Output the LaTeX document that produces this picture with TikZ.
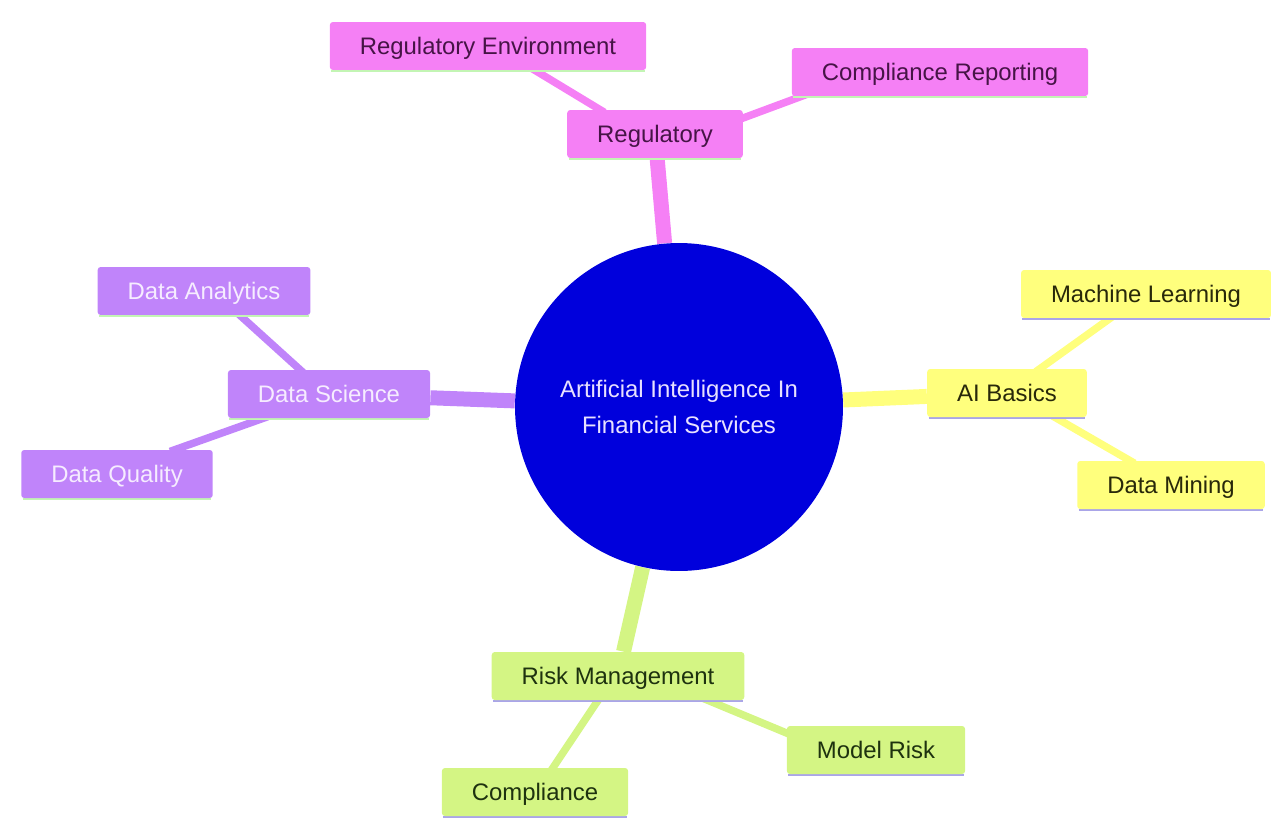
\documentclass[tikz,border=0pt]{standalone}
\usepackage{fontspec}
\setmainfont{Liberation Sans}
\usetikzlibrary{backgrounds}

\definecolor{hubblue}{RGB}{0,0,220}
\definecolor{hubtext}{RGB}{232,225,255}
\definecolor{regpink}{RGB}{245,128,245}
\definecolor{regtext}{RGB}{70,20,70}
\definecolor{aiyellow}{RGB}{255,255,125}
\definecolor{aitext}{RGB}{40,40,10}
\definecolor{dspurple}{RGB}{192,132,250}
\definecolor{dstext}{RGB}{246,236,255}
\definecolor{rmgreen}{RGB}{212,245,132}
\definecolor{rmtext}{RGB}{30,50,15}
\definecolor{lightgreen}{RGB}{195,245,180}
\definecolor{lavender}{RGB}{170,165,232}

\tikzset{
  box/.style={rounded corners=0.06cm,inner xsep=0.6cm,inner ysep=0pt,
    minimum height=0.96cm,text height=12.5pt,text depth=3pt,
    font=\fontsize{13.6}{16}\selectfont},
  bar/.style={append after command={\pgfextra{\draw[line width=1.3pt,#1]
    ([xshift=1pt,yshift=-0.5pt]\tikzlastnode.south west)--([xshift=-1pt,yshift=-0.5pt]\tikzlastnode.south east);}}},
  regbox/.style={box,fill=regpink,text=regtext,bar=lightgreen},
  aibox/.style={box,fill=aiyellow,text=aitext,bar=lavender},
  dsbox/.style={box,fill=dspurple,text=dstext,bar=lightgreen},
  rmbox/.style={box,fill=rmgreen,text=rmtext,bar=lavender},
  trunk/.style={line width=0.3cm},
  twig/.style={line width=0.15cm,shorten <=-3pt,shorten >=-3pt}
}

\begin{document}
\begin{tikzpicture}[x=0.02cm,y=-0.02cm]

\useasboundingbox (0,0) rectangle (1274,818);

% centre
\node[circle,fill=hubblue,minimum size=6.56cm,inner sep=0pt,text=hubtext,
  align=center,font=\fontsize{13.6}{20.5}\selectfont] (hub) at (679,407)
  {Artificial Intelligence In\\Financial Services};

% regulatory
\node[regbox] (reg) at (655,134) {Regulatory};
\node[regbox] (regenv) at (488,46) {Regulatory Environment};
\node[regbox] (comprep) at (940,72) {Compliance Reporting};

% ai basics
\node[aibox] (ai) at (1007,393) {AI Basics};
\node[aibox] (ml) at (1146,294) {Machine Learning};
\node[aibox] (dm) at (1171,485) {Data Mining};

% data science
\node[dsbox] (ds) at (329,394) {Data Science};
\node[dsbox] (da) at (204,291) {Data Analytics};
\node[dsbox] (dq) at (117,474) {Data Quality};

% risk management
\node[rmbox] (rm) at (618,676) {Risk Management};
\node[rmbox] (comp) at (535,792) {Compliance};
\node[rmbox] (mr) at (876,750) {Model Risk};

\begin{scope}[on background layer]
\draw[trunk,regpink] (hub)--(reg);
\draw[trunk,aiyellow] (hub)--(ai);
\draw[trunk,dspurple] (hub)--(ds);
\draw[trunk,rmgreen] (hub)--(rm);

\draw[twig,regpink] ([xshift=-1.1cm]reg.north)--([xshift=0.94cm]regenv.south);
\draw[twig,regpink] ([yshift=0.32cm]reg.east)--([xshift=0.2cm]comprep.south west);
\draw[twig,aiyellow] ([xshift=0.66cm]ai.north)--([xshift=-0.72cm]ml.south);
\draw[twig,aiyellow] ([xshift=0.96cm]ai.south)--([xshift=-0.82cm]dm.north);
\draw[twig,dspurple] ([xshift=-0.58cm]ds.north)--([xshift=0.72cm]da.south);
\draw[twig,dspurple] ([xshift=-1.32cm]ds.south)--([xshift=1.16cm]dq.north);
\draw[twig,rmgreen] ([xshift=-0.4cm]rm.south)--([xshift=0.36cm]comp.north);
\draw[twig,rmgreen] ([xshift=1.8cm]rm.south)--([yshift=0.34cm]mr.west);
\end{scope}

\end{tikzpicture}
\end{document}
